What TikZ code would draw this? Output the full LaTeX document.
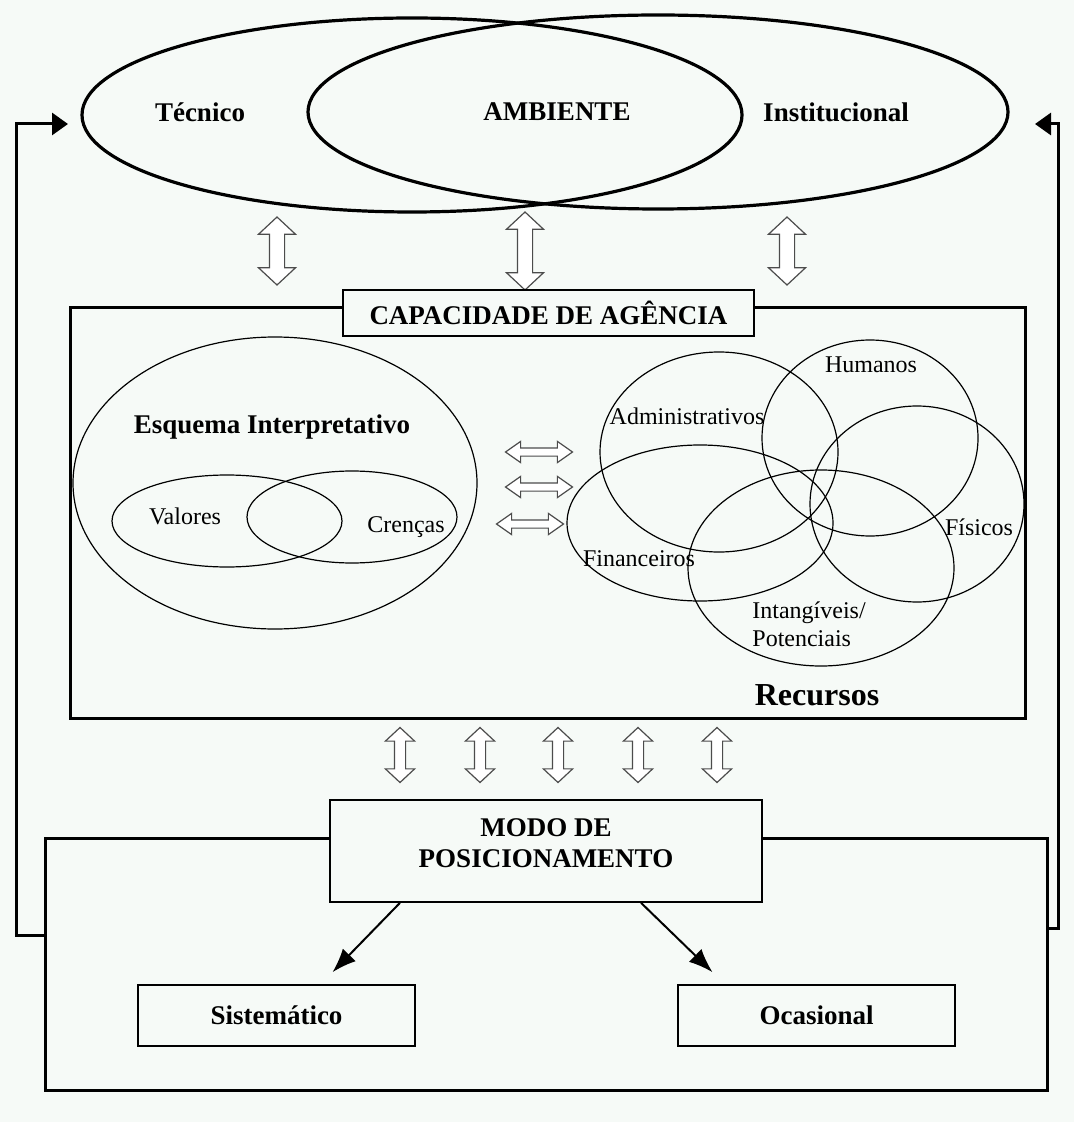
\documentclass[tikz,border=0pt]{standalone}
\usepackage{fontspec}
\setmainfont{Liberation Serif}
\usetikzlibrary{shapes.geometric,shapes.arrows,arrows.meta}
\definecolor{paper}{RGB}{246,250,247}
\begin{document}
\begin{tikzpicture}
  [x=0.5pt,y=-0.5pt,
   oval/.style={ellipse,draw,inner sep=0pt,line width=0.6pt},
   bigoval/.style={ellipse,draw,inner sep=0pt,line width=1.6pt},
   box/.style={rectangle,draw,fill=paper,inner sep=0pt},
   dblarrow/.style={double arrow,draw=black!70,fill=white,inner xsep=0pt,line width=0.6pt},
   bf/.style={font=\fontsize{13.5}{15.5}\selectfont\bfseries},
   rm/.style={font=\fontsize{12}{14}\selectfont},
   fb/.style={line width=1.5pt,-{Triangle[length=8pt,width=11pt]}},
   arr/.style={line width=1pt,-{Latex[length=12pt,width=9pt]}}]
  \fill[paper] (0,0) rectangle (1074,1122);
  \useasboundingbox (0,0) rectangle (1074,1122);

  % ambiente
  \node[bigoval,minimum width=330pt,minimum height=97pt] (tec) at (412,115) {};
  \node[bigoval,minimum width=350pt,minimum height=97pt] (inst) at (658,112) {};
  \node[bf] (ttec) at (200,112) {Técnico};
  \node[bf] (tamb) at (557,112) {AMBIENTE};
  \node[bf] (tinst) at (836,112) {Institucional};

  \foreach \x/\y/\len/\n in {277/251/34/1,525/251/39/2,787/251/34/3}
    \node[dblarrow,rotate=90,inner ysep=3.5pt,minimum height=\len pt,minimum width=18pt,
          double arrow head extend=5.5pt,double arrow tip angle=94] (up\n) at (\x,\y) {};

  % capacidade de agencia
  \node[box,line width=1.5pt,fill=none,minimum width=477.5pt,minimum height=205pt] (agencia) at (547.5,513) {};
  \node[box,line width=1pt,minimum width=205.5pt,minimum height=23pt,bf] (capac) at (548.5,313) {CAPACIDADE DE AGÊNCIA};

  \node[oval,minimum width=202pt,minimum height=146pt] (esq) at (275,483) {};
  \node[oval,minimum width=115pt,minimum height=46pt] (val) at (227,521) {};
  \node[oval,minimum width=105pt,minimum height=46pt] (cren) at (352,517) {};
  \node[bf] (tesq) at (272,427) {Esquema Interpretativo};
  \node[rm] (tval) at (185,516) {Valores};
  \node[rm] (tcren) at (406,527) {Crenças};

  \foreach \x/\y/\n in {539/452/1,539/487/2,530/524/3}
    \node[dblarrow,inner ysep=1.75pt,minimum height=33.5pt,minimum width=10pt,
          double arrow head extend=3.25pt,double arrow tip angle=70] (mid\n) at (\x,\y) {};

  \node[oval,minimum width=119pt,minimum height=100pt] (adm) at (719,452) {};
  \node[oval,minimum width=108pt,minimum height=98pt] (hum) at (870,438) {};
  \node[oval,minimum width=107pt,minimum height=98pt] (fis) at (917,504) {};
  \node[oval,minimum width=133pt,minimum height=78pt] (fin) at (700,523) {};
  \node[oval,minimum width=133pt,minimum height=98pt] (intg) at (821,568) {};
  \node[rm] (thum) at (871,365) {Humanos};
  \node[rm] (tadm) at (687,416) {Administrativos};
  \node[rm] (tfis) at (979,527) {Físicos};
  \node[rm] (tfin) at (639,559) {Financeiros};
  \node[rm,anchor=west,align=left,inner xsep=0pt] (tintg) at (752,624) {Intangíveis/\\Potenciais};
  \node[font=\fontsize{16}{18}\selectfont\bfseries] (trec) at (817,695) {Recursos};

  \foreach \x/\n in {400/1,480/2,558/3,638/4,717/5}
    \node[dblarrow,rotate=90,inner ysep=2.5pt,minimum height=27.5pt,minimum width=14pt,
          double arrow head extend=4.5pt,double arrow tip angle=94] (dn\n) at (\x,755) {};

  % modo de posicionamento
  \node[box,line width=1.5pt,fill=none,minimum width=501pt,minimum height=126pt] (posbox) at (546,964) {};
  \node[box,line width=0.8pt,minimum width=216pt,minimum height=51pt] (modo) at (546,851) {};
  \node[bf,align=center] (tmodo) at (546,843) {MODO DE\\POSICIONAMENTO};
  \node[box,line width=0.8pt,minimum width=138.5pt,minimum height=30.5pt,bf] (sist) at (276.5,1015.5) {Sistemático};
  \node[box,line width=0.8pt,minimum width=138.5pt,minimum height=30.5pt,bf] (ocas) at (816.5,1015.5) {Ocasional};

  \draw[arr] ([xshift=-73pt]modo.south) -- ([xshift=28pt,yshift=6pt]sist.north);
  \draw[arr] ([xshift=47.5pt]modo.south) -- ([xshift=-52pt,yshift=6pt]ocas.north);

  % retorno
  \coordinate (inL) at (68,124);
  \coordinate (inR) at (1035,124);
  \draw[fb] ([yshift=14.5pt]posbox.west) -- ++(-27,0) |- (inL);
  \draw[fb] ([yshift=18pt]posbox.east) -- ++(10,0) |- (inR);
\end{tikzpicture}
\end{document}
